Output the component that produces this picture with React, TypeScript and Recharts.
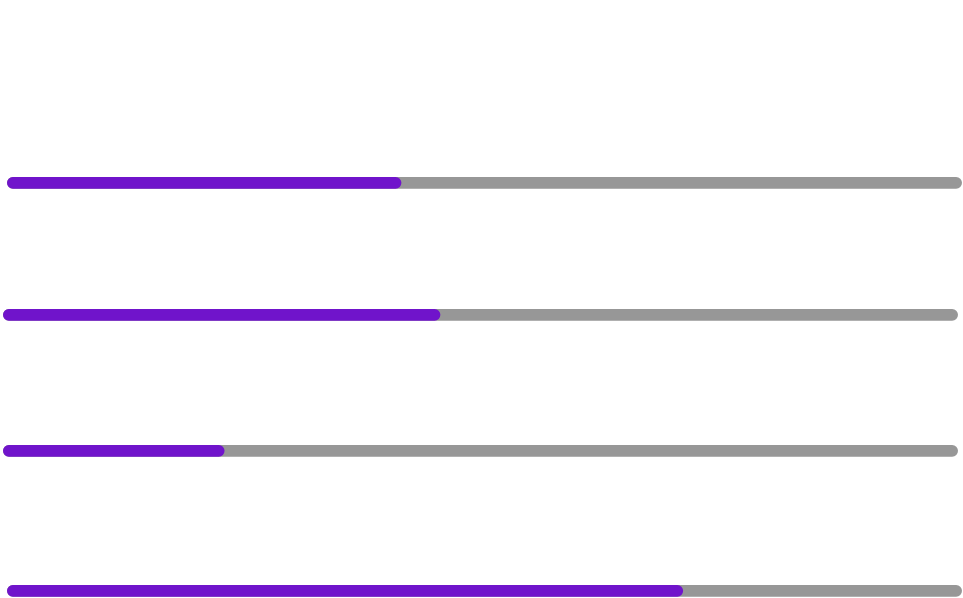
import React from "react";
import { BarChart, Bar, XAxis, YAxis } from "recharts";

const rowNames = ["row1", "row2", "row3", "row4"];
const rowValues = [41.3, 45.8, 23.2, 70.8];
const maxValue = 100;

// placement of each progress row on the page
const rowLeft = [7, 3, 3, 7];
const rowTop = [176, 308, 444, 584];

const BAR_W = 955;
const BAR_H = 13;

const ProgressRow: React.FC<{ name: string; value: number }> = ({ name, value }) => {
  const data = [{ name, value }];
  return (
    <BarChart
      width={BAR_W}
      height={BAR_H}
      data={data}
      layout="vertical"
      margin={{ top: 0, right: 0, left: 0, bottom: 0 }}
      barCategoryGap={0}
    >
      <XAxis type="number" domain={[0, maxValue]} hide />
      <YAxis type="category" dataKey="name" hide />
      <Bar
        dataKey="value"
        fill="#7014CB"
        barSize={BAR_H}
        radius={BAR_H / 2}
        background={{ fill: "#979797", radius: BAR_H / 2 }}
        isAnimationActive={false}
      />
    </BarChart>
  );
};

export default function App() {
  return (
    <div
      style={{
        position: "absolute",
        left: 0,
        top: 0,
        width: 963,
        height: 598,
        background: "#fff",
        overflow: "hidden",
      }}
    >
      {rowNames.map((n, i) => (
        <div key={n} style={{ position: "absolute", left: rowLeft[i], top: rowTop[i] }}>
          <ProgressRow name={n} value={rowValues[i]} />
        </div>
      ))}
    </div>
  );
}
